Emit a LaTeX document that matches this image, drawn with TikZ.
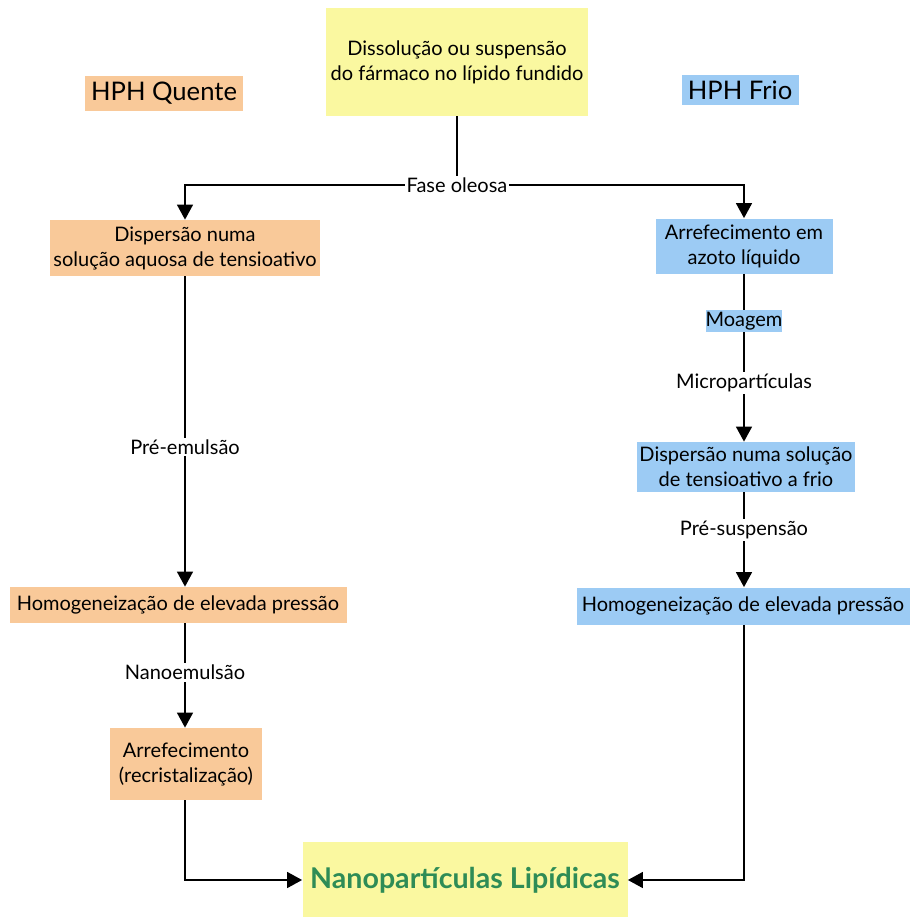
\documentclass[tikz,border=0pt]{standalone}
\usepackage{fontspec}
\setmainfont{Lato}
\usepackage{tikz}
\usetikzlibrary{positioning,arrows.meta,calc}
\definecolor{quente}{RGB}{249,201,153}
\definecolor{frio}{RGB}{156,203,244}
\definecolor{amarelo}{RGB}{250,248,160}
\definecolor{verde}{RGB}{46,140,86}

\begin{document}
\begin{tikzpicture}[
x=0.5pt, y=-0.5pt,
caixa/.style={
  align=center,
  inner sep=0pt,
  font=\fontsize{10}{12.5}\selectfont},
quentebox/.style={caixa, fill=quente},
friobox/.style={caixa, fill=frio},
rotulo/.style={
  fill=white,
  inner sep=1pt,
  font=\fontsize{10}{12.5}\selectfont},
seta/.style={
  line width=0.75pt,
  -{Triangle[width=8pt,length=7.5pt]}},
linha/.style={line width=0.75pt}
]
\useasboundingbox (0,0) rectangle (911,917);
\node[caixa, fill=amarelo, minimum width=131pt, minimum height=54pt] (topo) at (457,62)
  {Dissolução ou suspensão\\do fármaco no lípido fundido};
\node[quentebox, minimum width=79pt, minimum height=17.5pt,
  font=\fontsize{12.8}{14}\selectfont] (quente) at (164,93) {HPH Quente};
\node[friobox, minimum width=58.5pt, minimum height=15pt,
  font=\fontsize{12.8}{14}\selectfont] (frio) at (740,90) {HPH Frio};
% ramo quente
\node[quentebox, minimum width=135pt, minimum height=28pt] (disp) at (185,248)
  {Dispersão numa\\solução aquosa de tensioativo};
\node[quentebox, minimum width=168.5pt, minimum height=18pt] (homoQ) at (178,605)
  {Homogeneização de elevada pressão};
\node[quentebox, minimum width=76pt, minimum height=36pt] (recr) at (186,764)
  {Arrefecimento\\(recristalização)};
% ramo frio
\node[friobox, minimum width=88.5pt, minimum height=27.5pt] (arref) at (744,246)
  {Arrefecimento em\\azoto líquido};
\node[friobox, minimum width=37.5pt, minimum height=11pt] (moag) at (744,321) {Moagem};
\node[rotulo, fill=none] (micro) at (744,383) {Micropartículas};
\node[friobox, minimum width=109pt, minimum height=25pt] (disp2) at (746,467)
  {Dispersão numa solução\\de tensioativo a frio};
\node[friobox, minimum width=166.5pt, minimum height=18.5pt] (homoF) at (743,606)
  {Homogeneização de elevada pressão};
% final
\node[caixa, fill=amarelo, minimum width=162.5pt, minimum height=38.5pt,
  text=verde, font=\fontsize{14.3}{16}\selectfont\bfseries] (nano) at (465,880)
  {Nanopartículas Lipídicas};

\coordinate (fork) at (457,185);
\draw[linha] (topo.south) -- (fork);
\draw[seta] (fork) -| (disp.north);
\draw[seta] (fork) -| (arref.north);
\node[rotulo] (fase) at (fork) {Fase oleosa};

\draw[seta] (disp.south) -- (disp.south |- homoQ.north)
  node[rotulo, pos=0.55] (preem) {Pré-emulsão};
\draw[seta] (disp.south |- homoQ.south) -- (disp.south |- recr.north)
  node[rotulo, pos=0.47] (nanoem) {Nanoemulsão};
\draw[seta] (disp.south |- recr.south) |- (nano.west);

\draw[linha] (arref.south) -- (moag.north);
\draw[linha] (moag.south) -- (micro.north);
\draw[seta] (micro.south) -- (micro.south |- disp2.north);
\draw[seta] (micro.south |- disp2.south) -- (micro.south |- homoF.north)
  node[rotulo, pos=0.4] (presus) {Pré-suspensão};
\draw[seta] (micro.south |- homoF.south) |- (nano.east);
\end{tikzpicture}
\end{document}
